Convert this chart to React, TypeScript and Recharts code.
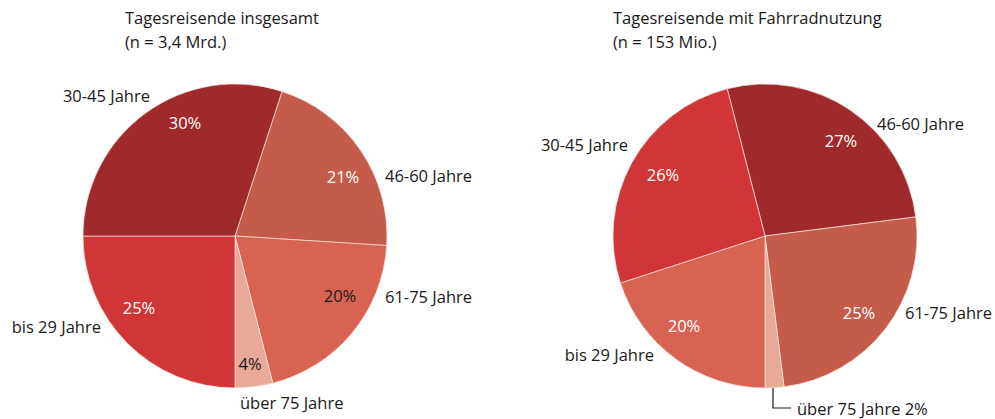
import React from "react";
import { PieChart, Pie, Cell } from "recharts";

const ageGroups = ["46-60 Jahre", "61-75 Jahre", "über 75 Jahre", "bis 29 Jahre", "30-45 Jahre"];
const totalShares = [21, 20, 4, 25, 30];
const bikeShares = [27, 25, 2, 20, 26];

const totalColors = ["#c45b4b", "#d96352", "#e8a998", "#d03537", "#a0292b"];
const bikeColors = ["#a0292b", "#c45b4b", "#e8a998", "#d96352", "#d03537"];

// label placement relative to pie centre: [dx, dy, anchor]
const totalOuter: [number, number, string][] = [
  [150, -61, "start"],
  [150, 60, "start"],
  [5, 166, "start"],
  [-134, 90, "end"],
  [-85, -141, "end"],
];
const totalInner: [number, number, string][] = [
  [108, -60, "#fff"],
  [105, 59, "#1a1a1a"],
  [15, 127, "#1a1a1a"],
  [-96, 71, "#fff"],
  [-50, -114, "#fff"],
];
const bikeOuter: [number, number, string][] = [
  [112, -113, "start"],
  [140, 76, "start"],
  [32, 172, "start"],
  [-111, 118, "end"],
  [-137, -92, "end"],
];
const bikeInner: ([number, number, string] | null)[] = [
  [76, -96, "#fff"],
  [94, 76, "#fff"],
  null,
  [-81, 89, "#fff"],
  [-102, -62, "#fff"],
];

const FONT = "'Open Sans', 'Noto Sans', sans-serif";
const FS = 16.5;
const R = 152;

const toRows = (shares: number[]) => ageGroups.map((name, i) => ({ name, value: shares[i] }));

// start so that "über 75 Jahre" ends straight down (clockwise from 12 o'clock)
const startFor = (shares: number[]) => {
  const before = (shares[0] + shares[1] + shares[2]) * 3.6;
  return 90 - (180 - before);
};

function makeLabel(outer: [number, number, string][], inner: ([number, number, string] | null)[], leader: boolean) {
  return (props: any) => {
    const { cx, cy, index, value, name } = props;
    const o = outer[index];
    const inn = inner[index];
    const small = leader && !inn;
    return (
      <g>
        {inn && (
          <text x={cx + inn[0]} y={cy + inn[1]} fill={inn[2]} textAnchor="middle" dominantBaseline="central" fontSize={FS} fontFamily={FONT}>
            {value}%
          </text>
        )}
        {small && (
          <polyline
            points={`${cx + 8},${cy + R} ${cx + 8},${cy + o[1]} ${cx + o[0] - 6},${cy + o[1]}`}
            fill="none"
            stroke="#1a1a1a"
            strokeWidth={1.2}
          />
        )}
        <text x={cx + o[0]} y={cy + o[1]} fill="#1a1a1a" textAnchor={o[2] as any} dominantBaseline="central" fontSize={FS} fontFamily={FONT}>
          {small ? `${name} ${value}%` : name}
        </text>
      </g>
    );
  };
}

const titleStyle: React.CSSProperties = {
  position: "absolute",
  fontFamily: FONT,
  fontSize: FS,
  lineHeight: "24px",
  color: "#1a1a1a",
  whiteSpace: "nowrap",
};

export default function App() {
  const totalStart = startFor(totalShares);
  const bikeStart = startFor(bikeShares);
  return (
    <div style={{ position: "absolute", left: 0, top: 0, width: 995, height: 419, background: "#fff" }}>
      <div style={{ ...titleStyle, left: 125, top: 6 }}>
        Tagesreisende insgesamt
        <br />
        (n = 3,4 Mrd.)
      </div>
      <div style={{ ...titleStyle, left: 613, top: 6 }}>
        Tagesreisende mit Fahrradnutzung
        <br />
        (n = 153 Mio.)
      </div>
      <PieChart width={995} height={419} margin={{ top: 0, right: 0, bottom: 0, left: 0 }} style={{ position: "absolute", left: 0, top: 0 }}>
        <Pie
          data={toRows(totalShares)}
          dataKey="value"
          nameKey="name"
          cx={235}
          cy={236}
          outerRadius={R}
          startAngle={totalStart}
          endAngle={totalStart - 360}
          stroke="#f6e4de"
          strokeWidth={0.7}
          label={makeLabel(totalOuter, totalInner, false)}
          labelLine={false}
          isAnimationActive={false}
        >
          {totalColors.map((c, i) => (
            <Cell key={i} fill={c} />
          ))}
        </Pie>
        <Pie
          data={toRows(bikeShares)}
          dataKey="value"
          nameKey="name"
          cx={765}
          cy={236}
          outerRadius={R}
          startAngle={bikeStart}
          endAngle={bikeStart - 360}
          stroke="#f6e4de"
          strokeWidth={0.7}
          label={makeLabel(bikeOuter, bikeInner, true)}
          labelLine={false}
          isAnimationActive={false}
        >
          {bikeColors.map((c, i) => (
            <Cell key={i} fill={c} />
          ))}
        </Pie>
      </PieChart>
    </div>
  );
}
